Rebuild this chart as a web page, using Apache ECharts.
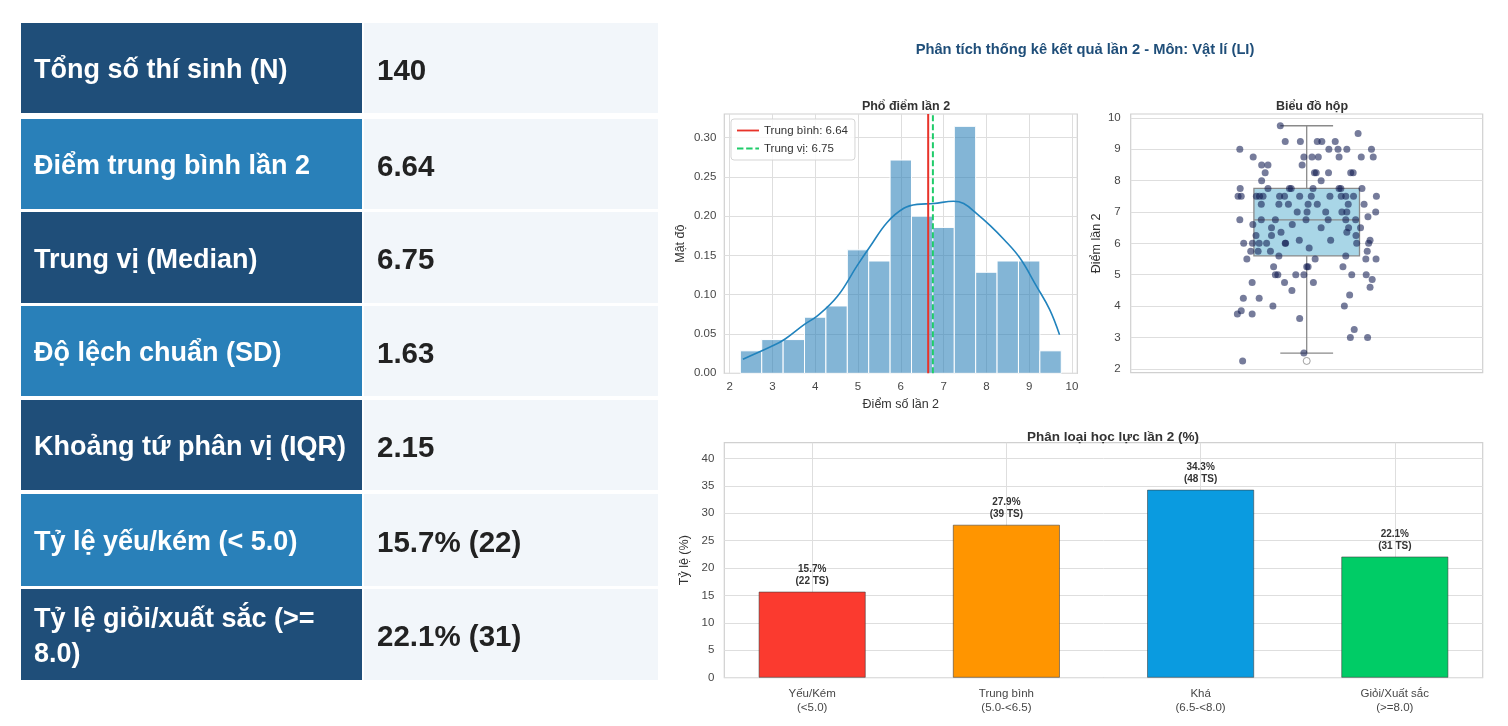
<!DOCTYPE html>
<html><head><meta charset="utf-8">
<script src="https://cdn.jsdelivr.net/npm/echarts@6/dist/echarts.min.js"></script>
<style>
html,body{margin:0;padding:0;background:#fff;width:1508px;height:726px;overflow:hidden;font-family:'Liberation Sans',Arial,sans-serif}
#chart{position:absolute;left:0;top:0;width:1508px;height:726px}
#table{position:absolute;left:0;top:0}
.row{position:absolute;left:21px;width:637px;display:flex}
.lab{width:341px;color:#fff;font-weight:bold;font-size:27px;display:flex;align-items:center;padding-left:13px;padding-right:6px;padding-top:3px;box-sizing:border-box;line-height:35px}
.val{flex:1;background:#f2f6fa;color:#222;font-weight:bold;font-size:29.5px;display:flex;align-items:center;padding-left:13px;padding-top:3px;margin-left:2px}
</style></head>
<body>
<div id="chart"></div>
<div id="table"></div>
<script>
// ---------- data ----------
const statLabels = ['Tổng số thí sinh (N)','Điểm trung bình lần 2','Trung vị (Median)','Độ lệch chuẩn (SD)','Khoảng tứ phân vị (IQR)','Tỷ lệ yếu/kém (< 5.0)','Tỷ lệ giỏi/xuất sắc (>= 8.0)'];
const statValues = ['140','6.64','6.75','1.63','2.15','15.7% (22)','22.1% (31)'];

const binLeft = [2.25,2.75,3.25,3.75,4.25,4.75,5.25,5.75,6.25,6.75,7.25,7.75,8.25,8.75,9.25];
const binWidth = 0.5;
const density = [0.0286,0.0429,0.0429,0.0714,0.0857,0.1571,0.1429,0.2714,0.2000,0.1857,0.3143,0.1286,0.1429,0.1429,0.0286];

const kdeX = [2.31,2.97,3.28,3.74,4.05,4.52,4.98,5.29,5.68,6.07,6.38,6.77,7.23,7.47,7.78,8.09,8.40,8.78,9.17,9.48,9.71];
const kdeY = [0.018,0.034,0.043,0.062,0.073,0.098,0.137,0.162,0.192,0.210,0.215,0.216,0.219,0.216,0.203,0.188,0.171,0.147,0.111,0.081,0.049];

const meanScore = 6.64;
const medianScore = 6.75;

const boxStats = {q1:5.6, median:6.75, q3:7.75, low:2.5, high:9.75};
const outliers = [2.25];

// [jitter, score]
const stripPoints = [
[-0.075,9.75],[0.146,9.5],
[-0.061,9.25],[-0.018,9.25],[0.030,9.25],[0.043,9.25],[0.081,9.25],
[-0.190,9.0],[0.063,9.0],[0.089,9.0],[0.114,9.0],[0.184,9.0],
[-0.152,8.75],[-0.008,8.75],[0.015,8.75],[0.033,8.75],[0.092,8.75],[0.155,8.75],[0.189,8.75],
[-0.128,8.5],[-0.110,8.5],[-0.013,8.5],
[-0.118,8.25],[0.022,8.25],[0.027,8.25],[0.062,8.25],[0.125,8.25],[0.132,8.25],
[-0.128,8.0],[0.041,8.0],
[-0.189,7.75],[-0.110,7.75],[-0.049,7.75],[-0.044,7.75],[0.018,7.75],[0.092,7.75],[0.097,7.75],[0.157,7.75],
[-0.195,7.5],[-0.186,7.5],[-0.143,7.5],[-0.134,7.5],[-0.124,7.5],[-0.077,7.5],[-0.063,7.5],[-0.020,7.5],[0.013,7.5],[0.066,7.5],[0.098,7.5],[0.111,7.5],[0.133,7.5],[0.198,7.5],
[-0.129,7.25],[-0.079,7.25],[-0.052,7.25],[0.004,7.25],[0.030,7.25],[0.118,7.25],[0.163,7.25],
[-0.027,7.0],[0.001,7.0],[0.054,7.0],[0.100,7.0],[0.114,7.0],[0.196,7.0],
[0.174,6.85],
[-0.190,6.75],[-0.129,6.75],[-0.089,6.75],[-0.002,6.75],[0.061,6.75],[0.111,6.75],[0.139,6.75],
[-0.153,6.6],[-0.041,6.6],
[-0.100,6.5],[0.041,6.5],[0.119,6.5],[0.153,6.5],
[-0.073,6.35],[0.114,6.35],
[-0.144,6.25],[-0.100,6.25],[0.140,6.25],
[-0.021,6.1],[0.068,6.1],[0.180,6.1],
[-0.179,6.0],[-0.154,6.0],[-0.135,6.0],[-0.114,6.0],[-0.061,6.0],[-0.060,6.0],[0.142,6.0],[0.176,6.0],
[0.007,5.85],
[-0.159,5.75],[-0.138,5.75],[-0.103,5.75],[0.172,5.75],
[-0.079,5.6],[0.111,5.6],
[-0.170,5.5],[0.024,5.5],[0.168,5.5],[0.197,5.5],
[-0.094,5.25],[0.000,5.25],[0.004,5.25],[0.103,5.25],
[-0.089,5.0],[-0.082,5.0],[-0.031,5.0],[-0.008,5.0],[0.128,5.0],[0.169,5.0],
[0.186,4.85],
[-0.155,4.75],[-0.063,4.75],[0.019,4.75],
[0.180,4.6],[-0.042,4.5],[0.122,4.35],
[-0.180,4.25],[-0.135,4.25],
[-0.096,4.0],[0.107,4.0],
[-0.186,3.85],[-0.197,3.75],[-0.155,3.75],
[-0.020,3.6],[0.135,3.25],[0.124,3.0],[0.173,3.0],
[-0.008,2.5],[-0.182,2.25]
];

const catNames = ['Yếu/Kém','Trung bình','Khá','Giỏi/Xuất sắc'];
const catRanges = ['(<5.0)','(5.0-<6.5)','(6.5-<8.0)','(>=8.0)'];
const catPct = [15.7,27.9,34.3,22.1];
const catCount = [22,39,48,31];
const catColors = ['#fb3a2f','#ff9500','#0a9be0','#00cc66'];

const histTicksX = [2,3,4,5,6,7,8,9,10];
const histTicksY = [0,0.05,0.10,0.15,0.20,0.25,0.30];
const boxTicksY = [2,3,4,5,6,7,8,9,10];
const barTicksY = [0,5,10,15,20,25,30,35,40];

// ---------- table ----------
const rowTops = [23,119,212,306,400,494,589];
const rowHeights = [90,90,91,90,90,92,91];
const rowColors = ['#1f4e79','#2980b9'];
const tbl = document.getElementById('table');
statLabels.forEach((l,i)=>{
  const r = document.createElement('div');
  r.className='row';
  r.style.top = rowTops[i]+'px';
  r.style.height = rowHeights[i]+'px';
  r.innerHTML = '<div class="lab" style="background:'+rowColors[i%2]+'">'+l+'</div><div class="val">'+statValues[i]+'</div>';
  tbl.appendChild(r);
});

// ---------- chart ----------
const chart = echarts.init(document.getElementById('chart'));
const gridLine = {show:true, lineStyle:{color:'#dedede', width:1}};
const tickLabel = {color:'#474747', fontSize:11.5};
const axisNameStyle = {color:'#333', fontSize:12.5};
const FF = 'Liberation Sans';
const meanName = 'Trung bình: ' + meanScore.toFixed(2);
const medianName = 'Trung vị: ' + medianScore.toFixed(2);

chart.setOption({
  animation:false,
  textStyle:{fontFamily:FF},
  title:[
    {text:'Phân tích thống kê kết quả lần 2 - Môn: Vật lí (LI)', left:1080, top:37, textAlign:'center',
     textStyle:{fontSize:14.7, fontWeight:'bold', color:'#1f4e79', fontFamily:FF}},
    {text:'Phổ điểm lần 2', left:901, top:95, textAlign:'center', textStyle:{fontSize:12.5, fontWeight:'bold', color:'#333', fontFamily:FF}},
    {text:'Biểu đồ hộp', left:1307, top:95, textAlign:'center', textStyle:{fontSize:12.5, fontWeight:'bold', color:'#333', fontFamily:FF}},
    {text:'Phân loại học lực lần 2 (%)', left:1108, top:425, textAlign:'center', textStyle:{fontSize:13.5, fontWeight:'bold', color:'#333', fontFamily:FF}}
  ],
  legend:{
    data:[
      {name:meanName, icon:'path://M0,0 H24 V2 H0 Z'},
      {name:medianName, icon:'path://M0,0 H7 V2 H0 Z M10,0 H17 V2 H10 Z M20,0 H24 V2 H20 Z'}
    ],
    left:731, top:119, orient:'vertical', itemGap:5, itemWidth:22, itemHeight:2.2,
    padding:[5,7,5,6], borderColor:'#d5d5d5', borderWidth:1, borderRadius:3,
    backgroundColor:'rgba(255,255,255,0.85)',
    textStyle:{fontSize:11.5, color:'#333', fontFamily:FF, lineHeight:13}
  },
  grid:[
    {left:724.3, top:114, width:353, height:259.3, show:true, borderColor:'#d0d0d0', borderWidth:1.2, backgroundColor:'#fff'},
    {left:1130.7, top:114, width:352, height:258.7, show:true, borderColor:'#d0d0d0', borderWidth:1.2, backgroundColor:'#fff'},
    {left:724.3, top:442.7, width:758.4, height:235, show:true, borderColor:'#d0d0d0', borderWidth:1.2, backgroundColor:'#fff'}
  ],
  xAxis:[
    {type:'value', gridIndex:0, min:1.875, max:10.125,
     axisLine:{show:false}, axisTick:{show:false, customValues:histTicksX},
     axisLabel:Object.assign({customValues:histTicksX, margin:8}, tickLabel),
     splitLine:gridLine,
     name:'Điểm số lần 2', nameLocation:'middle', nameGap:25, nameTextStyle:axisNameStyle},
    {type:'value', gridIndex:1, min:-0.5, max:0.5, show:false, splitLine:{show:false}},
    {type:'value', gridIndex:2, min:-0.4525, max:3.4525,
     axisLine:{show:false}, axisTick:{show:false, customValues:[0,1,2,3]},
     axisLabel:Object.assign({customValues:[0,1,2,3], margin:9, lineHeight:14,
       formatter:(v)=>catNames[Math.round(v)]+'\n'+catRanges[Math.round(v)]}, tickLabel),
     splitLine:gridLine}
  ],
  yAxis:[
    {type:'value', gridIndex:0, min:0, max:0.33,
     axisLine:{show:false}, axisTick:{show:false, customValues:histTicksY},
     axisLabel:Object.assign({customValues:histTicksY, margin:8, formatter:(v)=>v.toFixed(2)}, tickLabel),
     splitLine:gridLine,
     name:'Mật độ', nameLocation:'middle', nameGap:37, nameTextStyle:axisNameStyle},
    {type:'value', gridIndex:1, min:1.875, max:10.125,
     axisLine:{show:false}, axisTick:{show:false, customValues:boxTicksY},
     axisLabel:Object.assign({customValues:boxTicksY, margin:10}, tickLabel),
     splitLine:gridLine,
     name:'Điểm lần 2', nameLocation:'middle', nameGap:28, nameTextStyle:axisNameStyle},
    {type:'value', gridIndex:2, min:0, max:42.875,
     axisLine:{show:false}, axisTick:{show:false, customValues:barTicksY},
     axisLabel:Object.assign({customValues:barTicksY, margin:10}, tickLabel),
     splitLine:gridLine,
     name:'Tỷ lệ (%)', nameLocation:'middle', nameGap:29, nameTextStyle:axisNameStyle}
  ],
  series:[
    {type:'custom', name:'hist', xAxisIndex:0, yAxisIndex:0, z:2,
     data: binLeft.map((b,i)=>[b, b+binWidth, density[i]]),
     encode:{x:[0,1], y:2},
     renderItem:(params, api)=>{
       const p0 = api.coord([api.value(0), api.value(2)]);
       const p1 = api.coord([api.value(1), 0]);
       return {type:'rect', shape:{x:p0[0], y:p0[1], width:p1[0]-p0[0], height:p1[1]-p0[1]},
               style:{fill:'rgba(41,128,185,0.58)', stroke:'#ffffff', lineWidth:1}};
     }},
    {type:'line', name:'kde', xAxisIndex:0, yAxisIndex:0, z:3, smooth:0.4, showSymbol:false, symbol:'none',
     data: kdeX.map((x,i)=>[x, kdeY[i]]),
     lineStyle:{color:'#2183bd', width:1.6}, itemStyle:{color:'#2183bd'}},
    {type:'line', name:meanName, xAxisIndex:0, yAxisIndex:0, z:4, symbol:'none',
     data:[[meanScore,0],[meanScore,0.33]], lineStyle:{color:'#e8332a', width:2}, itemStyle:{color:'#e8332a'}},
    {type:'line', name:medianName, xAxisIndex:0, yAxisIndex:0, z:4, symbol:'none',
     data:[[medianScore,0],[medianScore,0.33]], lineStyle:{color:'#1fcc6a', width:2, type:[6,3]}, itemStyle:{color:'#1fcc6a'}},

    {type:'custom', name:'box', xAxisIndex:1, yAxisIndex:1, z:2,
     data:[[0, boxStats.q1, boxStats.median, boxStats.q3, boxStats.low, boxStats.high]],
     encode:{x:0, y:[1,2,3,4,5]},
     renderItem:(params, api)=>{
       const c = api.value(0), q1 = api.value(1), md = api.value(2), q3 = api.value(3), lo = api.value(4), hi = api.value(5);
       const hw = 0.15, cw = 0.075;
       const a = api.coord([c-hw, q3]), b = api.coord([c+hw, q1]);
       const m0 = api.coord([c-hw, md]), m1 = api.coord([c+hw, md]);
       const w0 = api.coord([c, q1]), w1 = api.coord([c, lo]);
       const w2 = api.coord([c, q3]), w3 = api.coord([c, hi]);
       const cl0 = api.coord([c-cw, lo]), cl1 = api.coord([c+cw, lo]);
       const ch0 = api.coord([c-cw, hi]), ch1 = api.coord([c+cw, hi]);
       const ls = {stroke:'#8a8a8a', lineWidth:1.3};
       return {type:'group', children:[
         {type:'line', shape:{x1:w0[0], y1:w0[1], x2:w1[0], y2:w1[1]}, style:ls},
         {type:'line', shape:{x1:w2[0], y1:w2[1], x2:w3[0], y2:w3[1]}, style:ls},
         {type:'line', shape:{x1:cl0[0], y1:cl0[1], x2:cl1[0], y2:cl1[1]}, style:ls},
         {type:'line', shape:{x1:ch0[0], y1:ch0[1], x2:ch1[0], y2:ch1[1]}, style:ls},
         {type:'rect', shape:{x:a[0], y:a[1], width:b[0]-a[0], height:b[1]-a[1]}, style:{fill:'#a9d6e7', stroke:'#8a8a8a', lineWidth:1.3}},
         {type:'line', shape:{x1:m0[0], y1:m0[1], x2:m1[0], y2:m1[1]}, style:ls}
       ]};
     }},
    {type:'scatter', name:'outlier', xAxisIndex:1, yAxisIndex:1, z:3, symbolSize:7,
     data: outliers.map(v=>[0,v]), itemStyle:{color:'#ffffff', borderColor:'#8a8a8a', borderWidth:1}},
    {type:'scatter', name:'points', xAxisIndex:1, yAxisIndex:1, z:4, symbolSize:7,
     data: stripPoints, itemStyle:{color:'rgba(18,28,82,0.72)'}},

    {type:'bar', name:'pct', xAxisIndex:2, yAxisIndex:2, z:3, barWidth:107,
     data: catPct.map((p,i)=>({value:[i,p], itemStyle:{color:catColors[i]}})),
     itemStyle:{borderColor:'rgba(60,60,60,0.7)', borderWidth:0.8},
     label:{show:true, position:'top', distance:5, fontSize:10, fontWeight:'bold', color:'#333', lineHeight:11.5, fontFamily:FF,
       formatter:(p)=>catPct[p.dataIndex].toFixed(1)+'%\n('+catCount[p.dataIndex]+' TS)'}}
  ]
});
</script>
</body></html>
